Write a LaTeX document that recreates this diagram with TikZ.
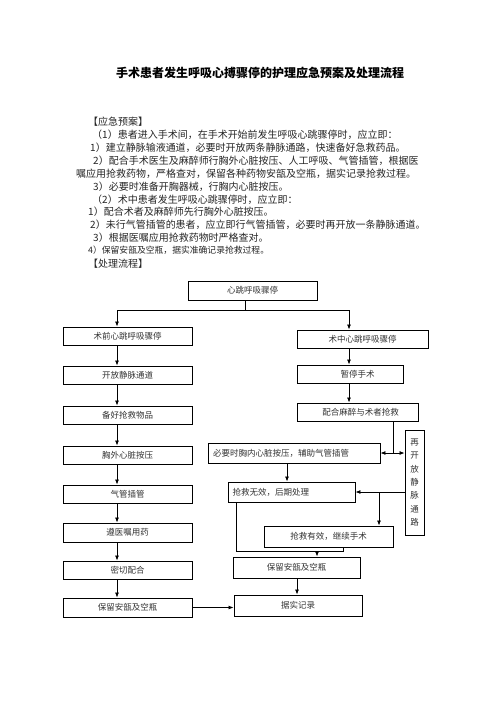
\documentclass[tikz,border=0pt]{standalone}
\usepackage{fontspec}
\newfontfamily\cjk{Noto Sans CJK SC}
\usetikzlibrary{arrows.meta}
\begin{document}
\begin{tikzpicture}[x=1pt,y=-1pt,
  body/.style={anchor=west,inner sep=0pt,text=black!85,font=\cjk\fontsize{10}{12}\selectfont},
  box/.style={draw,line width=0.9pt,inner sep=0pt,text=black!80,font=\cjk\fontsize{8.5}{10}\selectfont},
  conn/.style={line width=0.8pt},
  arr/.style={line width=0.8pt,-{Latex[length=5pt,width=4pt]}}]
\useasboundingbox (0,0) rectangle (496,702);
\fill[white] (0,0) rectangle (496,702);
% title
\node[inner sep=0pt,font=\cjk\bfseries\fontsize{12}{14}\selectfont] (title) at (260,73) {手术患者发生呼吸心搏骤停的护理应急预案及处理流程};
% body
\node[body] (t0) at (88,122) {【应急预案】};
\node[body] (t1) at (92,135) {（1）患者进入手术间，在手术开始前发生呼吸心跳骤停时，应立即：};
\node[body] (t2) at (90,148) {1）建立静脉输液通道，必要时开放两条静脉通路，快速备好急救药品。};
\node[body] (t3) at (93,161) {2）配合手术医生及麻醉师行胸外心脏按压、人工呼吸、气管插管，根据医};
\node[body] (t4) at (76,174) {嘱应用抢救药物，严格查对，保留各种药物安瓿及空瓶，据实记录抢救过程。};
\node[body] (t5) at (93,187) {3）必要时准备开胸器械，行胸内心脏按压。};
\node[body] (t6) at (92,199.5) {（2）术中患者发生呼吸心跳骤停时，应立即：};
\node[body] (t7) at (88,212) {1）配合术者及麻醉师先行胸外心脏按压。};
\node[body] (t8) at (90,225) {2）未行气管插管的患者，应立即行气管插管，必要时再开放一条静脉通道。};
\node[body] (t9) at (93,238) {3）根据医嘱应用抢救药物时严格查对。};
\node[body,font=\cjk\fontsize{8.8}{10}\selectfont] (t10) at (88,250.5) {4）保留安瓿及空瓶，据实准确记录抢救过程。};
\node[body] (t11) at (88,264) {【处理流程】};
% flowchart boxes
\node[box,minimum width=129pt,minimum height=19pt] (A) at (252.5,290.5) {心跳呼吸骤停};
\node[box,minimum width=129pt,minimum height=18pt] (B) at (127.5,336) {术前心跳呼吸骤停};
\node[box,minimum width=129pt,minimum height=18pt] (L2) at (127.5,375) {开放静脉通道};
\node[box,minimum width=129pt,minimum height=18pt] (L3) at (127.5,415) {备好抢救物品};
\node[box,minimum width=129pt,minimum height=18pt] (L4) at (127.5,455) {胸外心脏按压};
\node[box,minimum width=129pt,minimum height=18pt] (L5) at (127.5,494) {气管插管};
\node[box,minimum width=129pt,minimum height=19pt] (L6) at (127.5,532.5) {遵医嘱用药};
\node[box,minimum width=129pt,minimum height=18pt] (L7) at (127.5,570) {密切配合};
\node[box,minimum width=129pt,minimum height=19pt] (L8) at (127.5,607.5) {保留安瓿及空瓶};
\node[box,minimum width=131pt,minimum height=18pt] (C) at (362.5,339) {术中心跳呼吸骤停};
\node[box,minimum width=106pt,minimum height=18pt] (R2) at (350,374) {\hspace*{15pt}暂停手术};
\node[box,minimum width=121pt,minimum height=18pt] (R3) at (357.5,412) {\hspace*{6pt}配合麻醉与术者抢救};
\node[box,minimum width=172pt,minimum height=20pt,text width=162pt,inner xsep=5pt,align=left] (D) at (294,453) {必要时胸内心脏按压，辅助气管插管};
\node[box,minimum width=19pt,minimum height=105pt,align=center,font=\cjk\fontsize{8.5}{13.3}\selectfont] (V) at (414.5,482.5) {再\\开\\放\\静\\脉\\通\\路};
\node[box,minimum width=127pt,minimum height=20pt,text width=118pt,inner xsep=4.5pt,align=left] (E) at (291.5,492) {抢救无效，后期处理};
\node[box,minimum width=129pt,minimum height=21pt] (F) at (328.5,536.5) {抢救有效，继续手术};
\node[box,minimum width=127pt,minimum height=21pt] (G) at (296.5,567.5) {保留安瓿及空瓶};
\node[box,minimum width=128pt,minimum height=21pt] (H) at (298,605.5) {据实记录};
% helper coordinates
\coordinate (lx) at (117,0);
\coordinate (rx) at (349,0);
\coordinate (ax) at (245,0);
\coordinate (a1) at (245,310);
\coordinate (j1) at (393,453);
\coordinate (dx) at (287,0);
\coordinate (y2) at (0,492);
\coordinate (j3) at (379,492);
\coordinate (ex) at (236,0);
\coordinate (e1) at (236,551);
\coordinate (e2) at (343,551);
\coordinate (gx) at (317,551);
\coordinate (hx) at (297,0);
% connectors
\draw[conn] (A.south -| ax) -- (a1);
\draw[arr] (a1) -| (B.north -| lx);
\draw[arr] (a1) -| (C.north -| rx);
\draw[arr] (B.south -| lx) -- (L2.north -| lx);
\draw[arr] (L2.south -| lx) -- (L3.north -| lx);
\draw[arr] (L3.south -| lx) -- (L4.north -| lx);
\draw[arr] (L4.south -| lx) -- (L5.north -| lx);
\draw[arr] (L5.south -| lx) -- (L6.north -| lx);
\draw[arr] (L6.south -| lx) -- (L7.north -| lx);
\draw[arr] (L7.south -| lx) -- (L8.north -| lx);
\draw[arr] (C.south -| rx) -- (R2.north -| rx);
\draw[arr] (R2.south -| rx) -- (R3.north -| rx);
\draw[conn] (R3.south -| j1) -- (j1);
\draw[arr] (j1) -- (j1 -| D.east);
\draw[arr] (j1) -- (j1 -| V.west);
\draw[arr] (D.south -| dx) -- (E.north -| dx);
\draw[arr] (V.west |- y2) -- (E.east |- y2);
\draw[arr] (j3) -- (F.north -| j3);
\draw[conn] (E.south -| ex) -- (e1) -- (e2) -- (F.south -| e2);
\draw[arr] (gx) -- (G.north -| gx);
\draw[arr] (G.south -| hx) -- (H.north -| hx);
\draw[arr] (L8.east) -- (H.west |- L8.east);
\end{tikzpicture}
\end{document}
